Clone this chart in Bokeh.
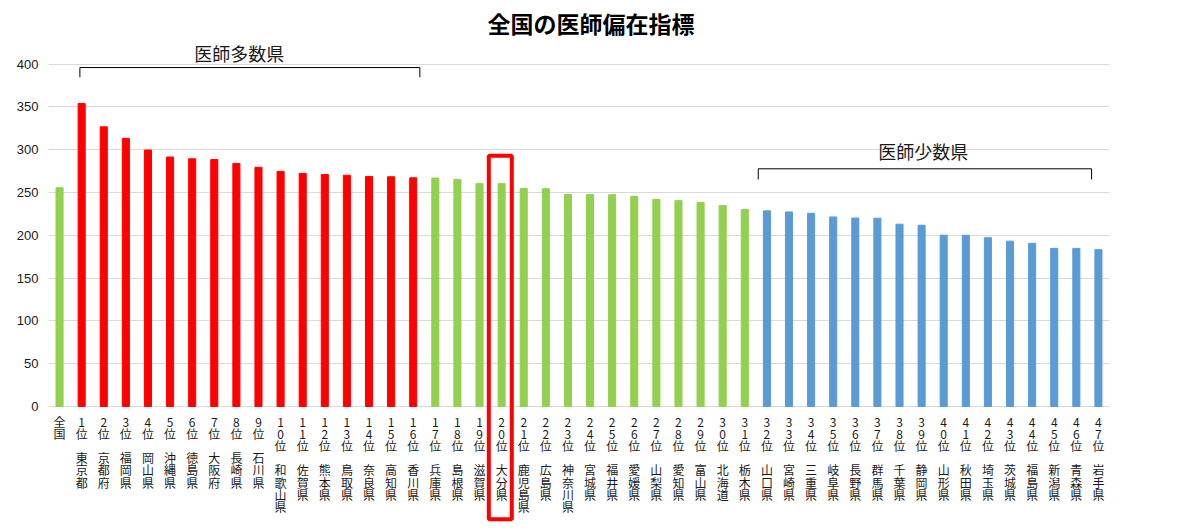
from bokeh.plotting import figure
from bokeh.models import Range1d, ColumnDataSource, FixedTicker
from bokeh.embed import file_html
from bokeh.resources import INLINE
from bokeh.core.properties import value

# ---- data -------------------------------------------------------------
ranks = ["全国"] + [f"{i}位" for i in range(1, 48)]
prefectures = ["", "東京都", "京都府", "福岡県", "岡山県", "沖縄県", "徳島県", "大阪府",
               "長崎県", "石川県", "和歌山県", "佐賀県", "熊本県", "鳥取県", "奈良県",
               "高知県", "香川県", "兵庫県", "島根県", "滋賀県", "大分県", "鹿児島県",
               "広島県", "神奈川県", "宮城県", "福井県", "愛媛県", "山梨県", "愛知県",
               "富山県", "北海道", "栃木県", "山口県", "宮崎県", "三重県", "岐阜県",
               "長野県", "群馬県", "千葉県", "静岡県", "山形県", "秋田県", "埼玉県",
               "茨城県", "福島県", "新潟県", "青森県", "岩手県"]
values = [255.6, 353.9, 326.7, 313.3, 299.6, 291.5, 289.4, 288.5, 284.0, 279.5,
          274.7, 272.3, 271.0, 270.2, 268.8, 268.4, 267.2, 266.9, 265.1, 260.4,
          260.4, 254.7, 254.5, 247.6, 247.5, 247.4, 245.6, 241.9, 240.5, 238.5,
          234.8, 230.3, 228.6, 227.3, 225.8, 221.5, 220.2, 220.0, 213.0, 211.8,
          200.2, 200.0, 197.2, 193.2, 190.7, 184.8, 184.7, 183.2]
groups = ["全国"] + ["多数"] * 16 + ["中間"] * 15 + ["少数"] * 16
y_ticks = [0, 50, 100, 150, 200, 250, 300, 350, 400]
title_text = "全国の医師偏在指標"
many_label = "医師多数県"
few_label = "医師少数県"
highlight = "大分県"

group_colors = {"全国": "#92D050", "多数": "#FF0000", "中間": "#92D050", "少数": "#5B9BD5"}

# ---- build ------------------------------------------------------------
xs = [i + 0.5 for i in range(len(ranks))]
labels = []
for r, pname in zip(ranks, prefectures):
    if pname:
        labels.append("\n".join(r) + "\n\n" + "\n".join(pname))
    else:
        labels.append("\n".join(r))

src = ColumnDataSource(dict(x=xs, value=values, color=[group_colors[g] for g in groups],
                            label=labels))

JP = "Noto Sans CJK JP"

p = figure(width=1180, height=525, output_backend="svg", toolbar_location=None,
           x_range=Range1d(0, len(ranks)), y_range=Range1d(-139.0, 427.6),
           x_axis_location=None, min_border_left=48, min_border_right=71,
           min_border_top=40, min_border_bottom=0)
p.outline_line_color = None
p.background_fill_color = "white"
p.border_fill_color = "white"

p.title.text = title_text
p.title.align = "left"
p.title.text_font = JP
p.title.text_font_size = "23px"
p.title.text_font_style = "bold"
p.title.text_color = "black"
p.title.offset = 439
p.title.standoff = 2

p.yaxis.ticker = FixedTicker(ticks=y_ticks)
p.yaxis.axis_line_color = None
p.yaxis.major_tick_line_color = None
p.yaxis.minor_tick_line_color = None
p.yaxis.major_tick_out = 0
p.yaxis.major_tick_in = 0
p.yaxis.major_label_standoff = 10
p.yaxis.major_label_text_font = "Liberation Sans"
p.yaxis.major_label_text_font_size = "13px"
p.yaxis.major_label_text_color = "#1a1a1a"

p.xgrid.visible = False
p.ygrid.ticker = FixedTicker(ticks=y_ticks)
p.ygrid.grid_line_color = "#d9d9d9"
p.ygrid.grid_line_width = 1

p.vbar(x="x", top="value", bottom=0, width=0.32, color="color", source=src)

p.text(x="x", y=0, text="label", source=src, y_offset=6, text_baseline="top",
       text_align="center", text_font=value(JP), text_font_size="12px",
       text_line_height=0.72, text_color="#1a1a1a")

# brackets
p.multi_line(xs=[[1.42, 1.42, 16.80, 16.80], [32.11, 32.11, 47.19, 47.19]],
             ys=[[384.7, 396.0, 396.0, 384.7], [265.2, 277.7, 277.7, 265.2]],
             line_color="black", line_width=1)
p.text(x=[8.63, 39.57], y=[413.0, 298.1], text=[many_label, few_label],
       text_align="center", text_baseline="middle", text_font=value(JP),
       text_font_size="18px", text_color="#1a1a1a")

# highlight box
hi = prefectures.index(highlight)
p.quad(left=[hi + 0.44 - 0.52], right=[hi + 0.44 + 0.52], top=[292.9], bottom=[-131.7],
       fill_color=None, line_color="#FF0000", line_width=4)

open("out.html", "w").write(file_html(p, INLINE))
